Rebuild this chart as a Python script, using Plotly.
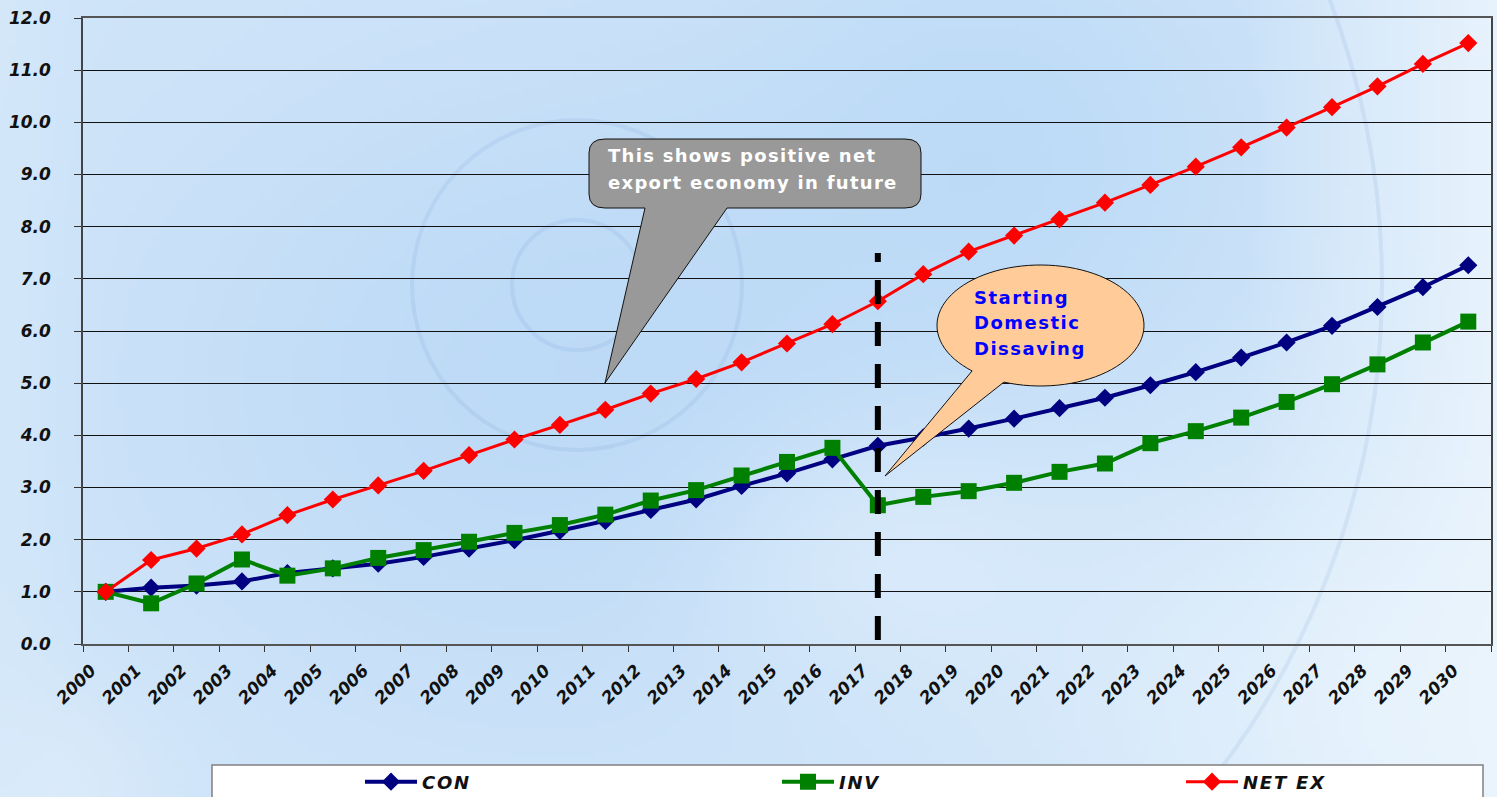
import math, zlib, struct, base64
import plotly.graph_objects as go

# ---------------- data ----------------
years = list(range(2000, 2031))
con = [1.00, 1.08, 1.12, 1.20, 1.36, 1.45, 1.54, 1.67, 1.83, 1.99, 2.17, 2.36, 2.57, 2.77, 3.03,
       3.27, 3.54, 3.80, 3.96, 4.13, 4.32, 4.52, 4.72, 4.96, 5.21, 5.49, 5.78, 6.10, 6.46, 6.84, 7.26]
inv = [1.00, 0.78, 1.16, 1.62, 1.31, 1.45, 1.65, 1.80, 1.96, 2.13, 2.28, 2.48, 2.75, 2.95, 3.23,
       3.49, 3.76, 2.66, 2.82, 2.93, 3.09, 3.30, 3.46, 3.85, 4.08, 4.34, 4.64, 4.98, 5.36, 5.78, 6.18]
netex = [1.00, 1.61, 1.83, 2.10, 2.47, 2.77, 3.04, 3.32, 3.62, 3.92, 4.20, 4.49, 4.80, 5.08, 5.40,
         5.76, 6.13, 6.57, 7.09, 7.52, 7.83, 8.14, 8.46, 8.80, 9.15, 9.52, 9.90, 10.29, 10.69, 11.12, 11.52]
series_names = ["CON", "INV", "NET EX"]
y_ticks = [float(v) for v in range(0, 13)]
marker_year = 2017  # dissaving starts
callout1_lines = ["This shows positive net", "export economy in future"]
callout2_lines = ["Starting", "Domestic", "Dissaving"]

# ---------------- geometry ----------------
W, H = 1497, 797
L, R, T, B = 83, 1491, 18, 644
NCAT = len(years)
YMAX = 12


def px2x(px):
    return (px - L) / (R - L) * NCAT


def py2y(py):
    return (B - py) / (B - T) * YMAX


def px2p(px):
    return (px - L) / (R - L)


def py2p(py):
    return (B - py) / (B - T)


xpos = [i + 0.5 for i in range(NCAT)]

# ---------------- background image ----------------
def lerp(c1, c2, t):
    return [a + (b - a) * t for a, b in zip(c1, c2)]


def bg_color(X, Y):
    c = [208, 229, 249]
    w = math.exp(-(((X - 600) / 450) ** 2 + ((Y - 380) / 330) ** 2))
    c = lerp(c, [184, 215, 246], 0.8 * w)
    w = math.exp(-(((X - 1000) / 260) ** 2 + ((Y - 150) / 260) ** 2))
    c = lerp(c, [180, 214, 246], 0.6 * w)
    w = max(0.0, min(1.0, (X - 1250) / 250))
    c = lerp(c, [236, 245, 253], 0.85 * w)
    w = math.exp(-(((X - 1350) / 300) ** 2 + ((Y - 700) / 250) ** 2))
    c = lerp(c, [238, 247, 254], 0.6 * w)
    w = math.exp(-(((X - 900) / 200) ** 2 + ((Y - 560) / 150) ** 2))
    c = lerp(c, [226, 240, 252], 0.6 * w)
    w = math.exp(-((X / 150) ** 2 + ((Y - 797) / 120) ** 2))
    c = lerp(c, [236, 245, 252], 0.5 * w)
    w = math.exp(-((X / 60) ** 2))
    c = lerp(c, [214, 233, 250], 0.6 * w)
    return [int(max(0, min(255, v))) for v in c]


def make_png(w, h):
    raw = bytearray()
    for j in range(h):
        raw.append(0)
        for i in range(w):
            raw += bytes(bg_color(i / (w - 1) * W, j / (h - 1) * H))

    def chunk(t, d):
        c = struct.pack('>I', len(d)) + t + d
        return c + struct.pack('>I', zlib.crc32(t + d) & 0xffffffff)

    png = (b'\x89PNG\r\n\x1a\n' + chunk(b'IHDR', struct.pack('>IIBBBBB', w, h, 8, 2, 0, 0, 0))
           + chunk(b'IDAT', zlib.compress(bytes(raw), 9)) + chunk(b'IEND', b''))
    return 'data:image/png;base64,' + base64.b64encode(png).decode()


bg_src = make_png(250, 134)

# ---------------- figure ----------------
fig = go.Figure()
colors = ["#000080", "#008000", "#ff0000"]
symbols = ["diamond", "square", "diamond"]
sizes = [14, 16, 14]
widths = [4, 4, 3]
legend_ids = ["legend", "legend2", "legend3"]
legend_px = [360, 777, 1181]
for name, vals, col, sym, sz, lw, lg in zip(series_names, [con, inv, netex], colors, symbols,
                                            sizes, widths, legend_ids):
    fig.add_trace(go.Scatter(
        x=xpos, y=vals, name=f'<span style="letter-spacing:1.8px">{name}</span>',
        mode="lines+markers",
        line=dict(color=col, width=lw),
        marker=dict(symbol=sym, size=sz, color=col, line=dict(width=0)),
        hoverinfo="x+y", legend=lg,
    ))

tickfont = dict(family="DejaVu Sans", size=17, color="#111", weight="bold", style="italic")
legfont = dict(family="DejaVu Sans", size=18, color="#111", weight="bold", style="italic")

legends = {}
for lg, lx in zip(legend_ids, legend_px):
    legends[lg] = dict(orientation="h", x=px2p(lx), y=py2p(782), xanchor="left", yanchor="middle",
                       bgcolor="rgba(0,0,0,0)", itemwidth=52, font=legfont)

fig.update_layout(
    width=W, height=H, autosize=False,
    margin=dict(l=L, r=W - R, t=T, b=H - B, autoexpand=False),
    paper_bgcolor="#cfe4f8",
    plot_bgcolor="rgba(0,0,0,0)",
    showlegend=True,
    xaxis=dict(range=[0, NCAT], tickmode="array", tickvals=list(range(NCAT + 1)),
               ticktext=[str(y) for y in years] + [""], tickangle=-45, tickfont=tickfont,
               ticks="outside", ticklen=6, tickcolor="#333", tickwidth=1,
               ticklabelshift=8, ticklabelstandoff=2,
               showline=True, linecolor="#555", linewidth=1.5, mirror=True,
               showgrid=False, zeroline=False, fixedrange=True, automargin=False),
    yaxis=dict(range=[0, YMAX], tickmode="array", tickvals=y_ticks, tickformat=".1f",
               tickfont=tickfont, ticks="outside", ticklen=7, tickcolor="#333",
               ticklabelstandoff=20,
               showline=True, linecolor="#444", linewidth=1.5, mirror=True,
               showgrid=True, gridcolor="#111", gridwidth=1, zeroline=False, fixedrange=True,
               automargin=False),
    **legends,
)

fig.add_layout_image(dict(source=bg_src, xref="paper", yref="paper",
                          x=px2p(0), y=py2p(0), sizex=px2p(W) - px2p(0), sizey=py2p(0) - py2p(H),
                          sizing="stretch", layer="below", xanchor="left", yanchor="top"))

# faint decorative rings
for r in [65, 165, 805]:
    fig.add_shape(type="circle", xref="paper", yref="paper",
                  x0=px2p(577 - r), x1=px2p(577 + r), y0=py2p(285 + r), y1=py2p(285 - r),
                  line=dict(color="rgba(110,150,205,0.13)", width=4), layer="below")

# legend box
fig.add_shape(type="rect", xref="paper", yref="paper",
              x0=px2p(212), x1=px2p(1483), y0=py2p(805), y1=py2p(765),
              fillcolor="white", line=dict(color="#808080", width=1.5), layer="above")


def path_from(cmds):
    s = ""
    for c in cmds:
        if c[0] == "Z":
            s += " Z"
        else:
            pts = " ".join(f"{px2x(p[0]):.4f},{py2y(p[1]):.4f}" for p in c[1:])
            s += f" {c[0]} {pts}"
    return s.strip()


# gray rounded callout
bx0, bx1, by0, by1, rx, ry = 589, 921, 139, 208, 16, 14
gray_cmds = [
    ("M", (bx0 + rx, by0)), ("L", (bx1 - rx, by0)), ("Q", (bx1, by0), (bx1, by0 + ry)),
    ("L", (bx1, by1 - ry)), ("Q", (bx1, by1), (bx1 - rx, by1)),
    ("L", (727, by1)), ("L", (605, 383)), ("L", (645, by1)),
    ("L", (bx0 + rx, by1)), ("Q", (bx0, by1), (bx0, by1 - ry)),
    ("L", (bx0, by0 + ry)), ("Q", (bx0, by0), (bx0 + rx, by0)), ("Z",),
]
fig.add_shape(type="path", xref="x", yref="y", path=path_from(gray_cmds),
              fillcolor="#999999", line=dict(color="#111", width=1), layer="above")

# orange elliptical callout
cx, cy, erx, ery = 1040.5, 325.5, 103.5, 60.5
tA = math.atan2((371 - cy) / ery, (972 - cx) / erx)
tB = math.atan2((382 - cy) / ery, (1004 - cx) / erx)
n = 90
start, end = tB, tA - 2 * math.pi
ell_cmds = []
for k in range(n + 1):
    t = start + (end - start) * k / n
    ell_cmds.append(("M" if k == 0 else "L", (cx + erx * math.cos(t), cy + ery * math.sin(t))))
ell_cmds += [("L", (885, 476)), ("Z",)]
fig.add_shape(type="path", xref="x", yref="y", path=path_from(ell_cmds),
              fillcolor="#ffcc99", line=dict(color="#111", width=1), layer="above")

# dashed vertical line at dissaving start
xi = years.index(marker_year) + 0.5
fig.add_shape(type="line", xref="x", yref="y", x0=xi, x1=xi, y0=py2y(640), y1=py2y(253),
              line=dict(color="black", width=6, dash="24px,18px"), layer="above")

# callout texts
for i, line in enumerate(callout1_lines):
    fig.add_annotation(x=px2x(606), y=py2y(155 + 27 * i), xref="x", yref="y",
                       text=f'<span style="letter-spacing:1.3px">{line}</span>',
                       showarrow=False, xanchor="left", yanchor="middle",
                       font=dict(family="DejaVu Sans", size=18, color="white", weight="bold"))
for i, line in enumerate(callout2_lines):
    fig.add_annotation(x=px2x(972), y=py2y(297 + 25.5 * i), xref="x", yref="y",
                       text=f'<span style="letter-spacing:1.5px">{line}</span>',
                       showarrow=False, xanchor="left", yanchor="middle",
                       font=dict(family="DejaVu Sans", size=18, color="#0000ff", weight="bold"))

fig.write_html("out.html")
